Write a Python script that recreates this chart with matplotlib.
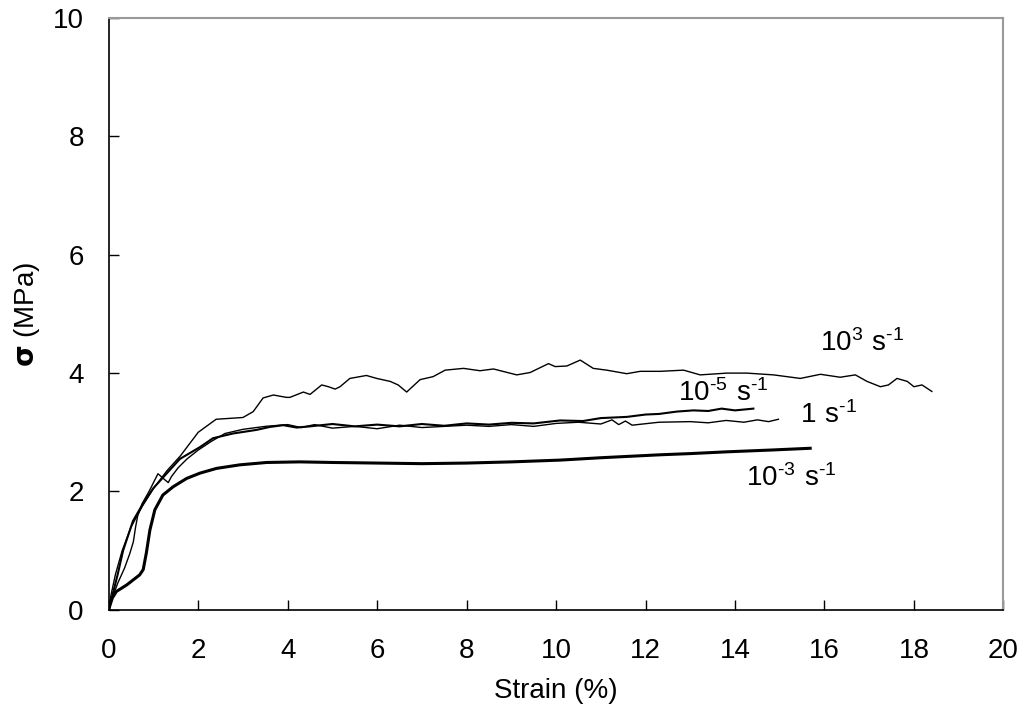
import numpy as np
import matplotlib
matplotlib.use("Agg")
import matplotlib.pyplot as plt

plt.rcParams['font.family'] = ['Liberation Sans', 'DejaVu Sans']
plt.rcParams['mathtext.default'] = 'regular'

# 10^3 s^-1 (thin)
x_1e3 = [0, 0.05, 0.15, 0.3, 0.5, 0.75, 1.0, 1.3, 1.6, 2.0, 2.4, 3.0, 3.23, 3.45, 3.68,
         3.97, 4.05, 4.35, 4.5, 4.76, 4.91, 5.06, 5.17, 5.39, 5.76, 5.99, 6.29, 6.47, 6.66,
         6.96, 7.25, 7.52, 7.93, 8.3, 8.6, 9.12, 9.42, 9.83, 9.98, 10.24, 10.54, 10.83,
         11.13, 11.58, 11.88, 12.33, 12.85, 13.22, 13.82, 14.26, 14.86, 15.46, 15.91,
         16.35, 16.69, 16.95, 17.25, 17.43, 17.62, 17.85, 18.0, 18.18, 18.4]
y_1e3 = [0, 0.25, 0.6, 1.0, 1.4, 1.75, 2.05, 2.35, 2.6, 3.0, 3.22, 3.25, 3.35, 3.58, 3.63,
         3.59, 3.59, 3.68, 3.64, 3.80, 3.77, 3.73, 3.77, 3.91, 3.96, 3.91, 3.86, 3.80, 3.68,
         3.89, 3.94, 4.05, 4.08, 4.04, 4.07, 3.97, 4.01, 4.16, 4.11, 4.12, 4.22, 4.08,
         4.05, 3.99, 4.03, 4.03, 4.05, 3.97, 4.0, 4.0, 3.97, 3.91, 3.98,
         3.93, 3.97, 3.86, 3.77, 3.80, 3.91, 3.86, 3.77, 3.80, 3.69]

# 10^-5 s^-1
x_1em5 = [0, 0.05, 0.1, 0.2, 0.32, 0.54, 0.77, 0.99, 1.29, 1.59, 2.04, 2.33, 2.78, 3.3,
          3.6, 3.9, 4.2, 4.5, 5.0, 5.5, 6.0, 6.5, 7.0, 7.5, 8.0, 8.5, 9.0, 9.5, 10.09,
          10.6, 11.0, 11.58, 12.0, 12.3, 12.7, 13.07, 13.4, 13.7, 14.0, 14.41]
y_1em5 = [0, 0.15, 0.3, 0.6, 1.0, 1.5, 1.8, 2.05, 2.3, 2.55, 2.75, 2.9, 2.98, 3.04,
          3.09, 3.12, 3.08, 3.1, 3.14, 3.1, 3.13, 3.1, 3.14, 3.11, 3.15, 3.13, 3.16,
          3.15, 3.2, 3.19, 3.24, 3.26, 3.3, 3.31, 3.35, 3.37, 3.36, 3.40, 3.37, 3.40]

# 1 s^-1
x_1 = [0, 0.08, 0.2, 0.35, 0.47, 0.55, 0.6, 0.65, 0.75, 0.9, 1.1, 1.25, 1.33, 1.4, 1.55,
       1.75, 2.0, 2.3, 2.6, 3.0, 3.5, 4.0, 4.3, 4.6, 5.0, 5.5, 6.0, 6.5, 7.0, 7.5, 8.0,
       8.5, 9.0, 9.5, 10.0, 10.5, 11.0, 11.25, 11.4, 11.55, 11.7, 12.3, 13.0, 13.4,
       13.8, 14.2, 14.5, 14.75, 14.97]
y_1 = [0, 0.2, 0.45, 0.7, 0.95, 1.15, 1.4, 1.6, 1.8, 2.0, 2.3, 2.2, 2.15, 2.25, 2.4,
       2.55, 2.7, 2.85, 2.98, 3.05, 3.1, 3.13, 3.08, 3.13, 3.07, 3.1, 3.06, 3.12, 3.08,
       3.1, 3.12, 3.1, 3.13, 3.1, 3.15, 3.17, 3.14, 3.21, 3.13, 3.19, 3.12, 3.17, 3.18,
       3.16, 3.2, 3.17, 3.21, 3.18, 3.22]

# 10^-3 s^-1 (thick)
x_1em3 = [0, 0.02, 0.08, 0.17, 0.4, 0.69, 0.77, 0.84, 0.92, 1.03, 1.21, 1.44, 1.74, 2.04,
          2.41, 2.93, 3.53, 4.27, 5.0, 6.0, 7.0, 8.0, 9.0, 10.09, 11.0, 12.33, 13.0,
          13.82, 14.8, 15.68]
y_1em3 = [0, 0.06, 0.2, 0.31, 0.42, 0.59, 0.68, 0.96, 1.35, 1.69, 1.94, 2.08, 2.22, 2.31,
          2.39, 2.45, 2.49, 2.5, 2.49, 2.48, 2.47, 2.48, 2.5, 2.53, 2.57, 2.62, 2.64,
          2.67, 2.7, 2.73]

hy = '\u2010'
labels = [r'$10^{3}\ s^{' + hy + '1}$', r'$10^{' + hy + '5}\ s^{' + hy + '1}$',
          r'$1\ s^{' + hy + '1}$', r'$10^{' + hy + '3}\ s^{' + hy + '1}$']
label_x = [16.85, 13.74, 16.08, 15.26]
label_y = [4.5, 3.67, 3.29, 2.23]

fig = plt.figure(figsize=(10.26, 7.2), dpi=100)
ax = fig.add_axes([0.106, 0.153, 0.872, 0.822])

ax.plot(x_1e3, y_1e3, color='black', lw=1.0)
ax.plot(x_1em5, y_1em5, color='black', lw=1.5)
ax.plot(x_1, y_1, color='black', lw=1.0)
ax.plot(x_1em3, y_1em3, color='black', lw=2.2)

for s, lx, ly in zip(labels, label_x, label_y):
    ax.text(lx, ly, s, fontsize=20, ha='center', va='center')

ax.set_xlim(0, 20)
ax.set_ylim(0, 10)
ax.set_xticks(np.arange(0, 21, 2))
ax.set_yticks(np.arange(0, 11, 2))
ax.tick_params(direction='in', length=7, width=1, labelsize=20, top=False, right=False)
ax.tick_params(axis='x', pad=20)
ax.tick_params(axis='y', pad=18)

for side in ['left', 'bottom']:
    ax.spines[side].set_color('black')
    ax.spines[side].set_linewidth(1.2)
for side in ['top', 'right']:
    ax.spines[side].set_color('#999999')
    ax.spines[side].set_linewidth(1.5)

ax.set_xlabel('Strain (%)', fontsize=20, labelpad=10)
ax.set_ylabel(r'$\mathbf{\sigma}$ (MPa)', fontsize=20, labelpad=8)

fig.savefig('out.png', dpi=100)
